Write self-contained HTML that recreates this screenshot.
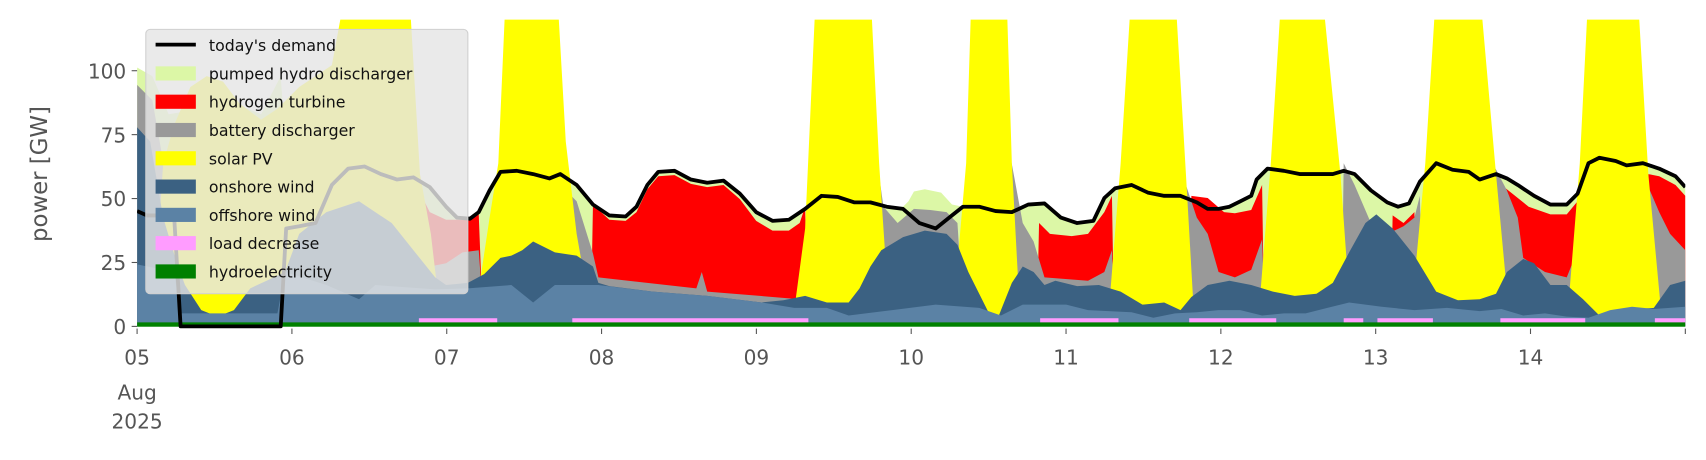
<!DOCTYPE html>
<html><head><meta charset="utf-8">
<style>
html,body{margin:0;padding:0;background:#fff;}
svg{display:block;}
text{font-family:"DejaVu Sans","Liberation Sans",sans-serif;}
</style></head>
<body>
<svg width="1706" height="460" viewBox="0 0 1568 422.8" preserveAspectRatio="none" xmlns="http://www.w3.org/2000/svg">
<defs><clipPath id="c"><rect x="126" y="18" width="1423" height="284"/></clipPath></defs>
<g clip-path="url(#c)">
<polygon fill="#dcf7a6" points="126,300 126,62 140,70 155,105 185,100 215,95 240,105 258,70 263,140 275,150 290,155 305,150 320,155 335,153 350,160 365,165 380,163 395,172 410,190 420,200 432,201 440,195 450,175 460,158 475,157 490,160 505,164 515,160 530,170 545,188 560,198 575,199 585,190 595,170 605,158 620,157 635,165 650,168 665,166 680,178 695,195 710,203 725,202 740,192 755,180 770,181 785,186 800,186 815,190 830,190 835,185 840,176 850,174 865,177 875,188 885,190 900,190 915,194 930,195 945,188 960,187 975,200 990,205 1005,203 1015,182 1025,173 1040,170 1055,177 1070,180 1085,180 1100,186 1110,192 1120,192 1130,190 1140,185 1150,180 1155,165 1165,155 1180,157 1195,160 1210,160 1225,160 1235,157 1245,160 1260,175 1275,186 1285,190 1295,187 1305,167 1320,150 1335,156 1350,158 1360,165 1375,160 1385,164 1395,170 1410,180 1425,188 1440,188 1450,178 1460,150 1470,145 1485,148 1495,152 1510,150 1525,155 1540,162 1549,172 1549,300"/>
<g fill="#ff0000">
<polygon points="383,300 385,175 395,195 410,202 425,202 440,197 444,300"/>
<polygon points="543,300 545,188 560,202 575,203 585,195 595,174 605,162 620,161 635,169 650,172 665,170 680,183 695,203 710,212 725,212 735,205 740,190 742,300"/>
<polygon points="953,300 955,205 965,215 985,217 1000,215 1015,195 1022,180 1024,300"/>
<polygon points="1093,300 1095,180 1110,182 1125,195 1135,196 1150,193 1160,170 1162,300"/>
<polygon points="1278,300 1280,198 1290,205 1300,195 1302,300"/>
<polygon points="1378,300 1380,170 1390,178 1405,190 1425,197 1440,197 1450,185 1452,300"/>
<polygon points="1513,300 1515,160 1525,162 1540,170 1549,180 1549,300"/>
</g>
<g fill="#999999">
<polygon points="126,300 126,78 140,92 152,160 158,300"/>
<polygon points="378,300 380,230 395,245 410,242 425,232 440,230 445,300"/>
<polygon points="510,300 512,120 520,175 530,185 545,233 550,255 640,265 645,250 650,268 735,275 740,300"/>
<polygon points="803,300 805,140 812,190 825,205 840,192 855,193 870,195 880,205 886,300"/>
<polygon points="926,300 928,140 940,205 950,222 960,255 1000,258 1015,250 1022,230 1025,300"/>
<polygon points="1088,300 1090,170 1100,200 1110,215 1120,250 1135,255 1150,248 1160,220 1163,300"/>
<polygon points="1233,300 1235,150 1245,170 1260,205 1275,215 1290,208 1300,200 1305,180 1308,300"/>
<polygon points="1370,300 1372,150 1385,175 1395,200 1400,237 1420,250 1440,255 1450,230 1453,300"/>
<polygon points="1508,300 1510,160 1525,195 1535,215 1549,230 1549,300"/>
</g>
<g fill="#ffff00">
<polygon points="140,300 150,150 160,115 175,80 190,70 205,75 220,95 240,110 255,100 275,80 305,60 318,-10 376,-10 386,160 396,215 406,300"/>
<polygon points="435,300 450,200 458,150 465,-10 512,-10 520,130 530,215 545,300"/>
<polygon points="728,300 740,210 750,-10 800,-10 808,150 818,300"/>
<polygon points="875,300 888,150 893,-10 925,-10 930,150 938,300"/>
<polygon points="1018,300 1030,150 1040,-10 1080,-10 1090,160 1098,300"/>
<polygon points="1156,300 1168,150 1178,-10 1215,-10 1232,160 1242,300"/>
<polygon points="1296,300 1310,150 1320,-10 1360,-10 1375,160 1388,300"/>
<polygon points="1440,300 1452,150 1460,-10 1505,-10 1515,160 1528,300"/>
</g>
<polygon fill="#3b6182" points="126,300 126,117 138,130 150,200 162,240 170,262 185,285 200,291 215,285 230,265 245,258 262,250 275,215 300,195 330,185 360,205 380,230 400,255 410,262 430,260 445,252 460,237 470,235 480,230 490,222 510,232 530,235 545,245 550,260 560,263 600,268 650,272 700,278 720,276 740,272 760,278 780,278 790,265 800,245 810,230 830,218 850,212 870,215 880,225 890,250 900,270 910,290 915,298 920,285 930,260 940,245 950,250 960,262 970,258 990,263 1010,262 1030,268 1050,280 1070,278 1085,285 1095,273 1110,262 1130,258 1150,262 1170,268 1190,272 1210,270 1225,260 1240,232 1255,205 1265,197 1280,210 1300,235 1320,268 1340,276 1360,275 1375,270 1385,250 1400,238 1410,242 1425,262 1440,262 1455,275 1470,290 1490,285 1520,283 1535,262 1549,258 1549,300"/>
<polygon fill="#5b82a5" points="126,300 126,243 160,250 166,288 255,288 262,250 300,262 330,275 345,262 400,266 430,265 470,262 490,278 510,262 550,262 600,268 650,272 700,278 730,283 760,283 780,290 820,285 860,280 900,283 920,290 940,280 980,280 1000,285 1040,287 1060,292 1080,288 1100,287 1120,285 1140,285 1160,290 1180,288 1200,288 1220,283 1240,278 1270,282 1300,285 1330,283 1360,286 1380,284 1400,290 1420,288 1440,291 1460,292 1480,285 1500,282 1520,284 1549,282 1549,300"/>
<g fill="#ff9cff">
<rect x="385" y="292.5" width="72" height="5"/><rect x="526" y="292.5" width="217" height="5"/>
<rect x="956" y="292.5" width="72" height="5"/><rect x="1093" y="292.5" width="80" height="5"/>
<rect x="1235" y="292.5" width="18" height="5"/><rect x="1266" y="292.5" width="51" height="5"/>
<rect x="1379" y="292.5" width="78" height="5"/><rect x="1521" y="292.5" width="28" height="5"/>
</g>
<rect x="126" y="296.3" width="1423" height="4" fill="#008000"/>
<polyline fill="none" stroke="#000" stroke-width="3.5" stroke-linejoin="round" points="126,194 135,198 160,198 166,300 258,300 263,210 275,208 290,205 305,170 320,155 335,153 350,160 365,165 380,163 395,172 410,190 420,200 432,201 440,195 450,175 460,158 475,157 490,160 505,164 515,160 530,170 545,188 560,198 575,199 585,190 595,170 605,158 620,157 635,165 650,168 665,166 680,178 695,195 710,203 725,202 740,192 755,180 770,181 785,186 800,186 815,190 830,192 845,205 860,210 875,198 885,190 900,190 915,194 930,195 945,188 960,187 975,200 990,205 1005,203 1015,182 1025,173 1040,170 1055,177 1070,180 1085,180 1100,186 1110,192 1120,192 1130,190 1140,185 1150,180 1155,165 1165,155 1180,157 1195,160 1210,160 1225,160 1235,157 1245,160 1260,175 1275,186 1285,190 1295,187 1305,167 1320,150 1335,156 1350,158 1360,165 1375,160 1385,164 1395,170 1410,180 1425,188 1440,188 1450,178 1460,150 1470,145 1485,148 1495,152 1510,150 1525,155 1540,162 1549,172"/>
</g>
<g stroke="#555" stroke-width="1">
<line x1="121" y1="300" x2="126" y2="300"/><line x1="121" y1="241.25" x2="126" y2="241.25"/>
<line x1="121" y1="182.5" x2="126" y2="182.5"/><line x1="121" y1="123.75" x2="126" y2="123.75"/>
<line x1="121" y1="65" x2="126" y2="65"/>
<line x1="126" y1="302" x2="126" y2="307"/><line x1="268.3" y1="302" x2="268.3" y2="307"/>
<line x1="410.6" y1="302" x2="410.6" y2="307"/><line x1="552.9" y1="302" x2="552.9" y2="307"/>
<line x1="695.2" y1="302" x2="695.2" y2="307"/><line x1="837.5" y1="302" x2="837.5" y2="307"/>
<line x1="979.8" y1="302" x2="979.8" y2="307"/><line x1="1122.1" y1="302" x2="1122.1" y2="307"/>
<line x1="1264.4" y1="302" x2="1264.4" y2="307"/><line x1="1406.7" y1="302" x2="1406.7" y2="307"/>
<line x1="1549" y1="302" x2="1549" y2="307"/>
</g>
<g fill="#555" font-size="18.5" text-anchor="end">
<text x="116" y="307">0</text><text x="116" y="248">25</text><text x="116" y="189.5">50</text>
<text x="116" y="131">75</text><text x="116" y="72">100</text>
</g>
<g fill="#555" font-size="18.5" text-anchor="middle">
<text x="126" y="335">05</text><text x="268.3" y="335">06</text><text x="410.6" y="335">07</text>
<text x="552.9" y="335">08</text><text x="695.2" y="335">09</text><text x="837.5" y="335">10</text>
<text x="979.8" y="335">11</text><text x="1122.1" y="335">12</text><text x="1264.4" y="335">13</text>
<text x="1406.7" y="335">14</text>
<text x="126" y="367">Aug</text><text x="126" y="394">2025</text>
</g>
<text fill="#555" font-size="21" text-anchor="middle" transform="translate(43,160) rotate(-90)">power [GW]</text>
<rect x="134" y="27" width="296" height="243" rx="4" fill="#e5e5e5" fill-opacity="0.82" stroke="#d0d0d0" stroke-width="1"/>
<g font-size="14.5" fill="#111">
<line x1="143" y1="41" x2="180" y2="41" stroke="#000" stroke-width="3.5"/><text x="192" y="47">today's demand</text>
<rect x="143" y="61" width="37" height="13" fill="#dcf7a6"/><text x="192" y="73">pumped hydro discharger</text>
<rect x="143" y="87" width="37" height="13" fill="#ff0000"/><text x="192" y="99">hydrogen turbine</text>
<rect x="143" y="113" width="37" height="13" fill="#999999"/><text x="192" y="125">battery discharger</text>
<rect x="143" y="139" width="37" height="13" fill="#ffff00"/><text x="192" y="151">solar PV</text>
<rect x="143" y="165" width="37" height="13" fill="#3b6182"/><text x="192" y="177">onshore wind</text>
<rect x="143" y="191" width="37" height="13" fill="#5b82a5"/><text x="192" y="203">offshore wind</text>
<rect x="143" y="217" width="37" height="13" fill="#ff9cff"/><text x="192" y="229">load decrease</text>
<rect x="143" y="243" width="37" height="13" fill="#008000"/><text x="192" y="255">hydroelectricity</text>
</g>
</svg>
</body></html>
